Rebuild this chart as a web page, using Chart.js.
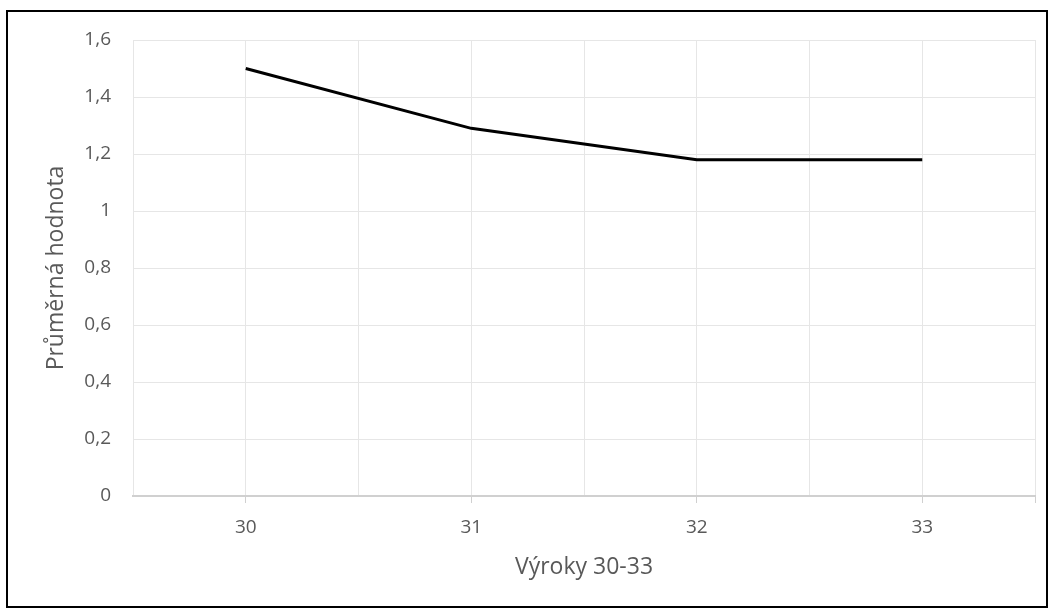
<!DOCTYPE html>
<html>
<head>
<meta charset="utf-8">
<script src="https://cdn.jsdelivr.net/npm/chart.js@4"></script>
<style>
  body { margin: 0; background: #fff; }
  #wrap { position: relative; width: 1052px; height: 610px; }
  #frame { position: absolute; left: 6px; top: 10px; width: 1038px; height: 594px; border: 2px solid #000; }
  canvas { position: absolute; left: 0; top: 0; }
</style>
</head>
<body>
<div id="wrap">
  <div id="frame"></div>
  <canvas id="chart" width="1052" height="610"></canvas>
</div>
<script>
const vyroky = [30, 31, 32, 33];
const hodnoty = [1.5, 1.29, 1.18, 1.18];
const yTicks = [0, 0.2, 0.4, 0.6, 0.8, 1, 1.2, 1.4, 1.6];

const textColor = '#595959';
const gridColor = '#e6e6e6';
const fontFamily = '"Open Sans", sans-serif';

const ctx = document.getElementById('chart');

new Chart(ctx, {
  type: 'line',
  data: {
    datasets: [{
      label: 'Průměrná hodnota',
      data: vyroky.map((v, i) => ({ x: v, y: hodnoty[i] })),
      borderColor: '#000',
      borderWidth: 3,
      pointRadius: 0,
      tension: 0,
      fill: false
    }]
  },
  options: {
    responsive: false,
    animation: false,
    layout: { padding: { top: 40, right: 17, left: 0, bottom: 0 } },
    plugins: {
      legend: { display: false },
      tooltip: { enabled: false }
    },
    scales: {
      x: {
        type: 'linear',
        min: vyroky[0] - 0.5,
        max: vyroky[vyroky.length - 1] + 0.5,
        afterFit: s => { s.height = 114; },
        afterBuildTicks: s => {
          const t = [];
          for (let v = s.min; v <= s.max + 0.001; v += 0.5) t.push({ value: v });
          s.ticks = t;
        },
        ticks: {
          autoSkip: false,
          maxRotation: 0,
          padding: 13,
          color: textColor,
          font: { family: fontFamily, size: 19 },
          callback: v => Number.isInteger(v) ? String(v) : ''
        },
        grid: {
          color: gridColor,
          lineWidth: 1,
          tickLength: 7,
          tickColor: c => (Number.isInteger(c.tick.value) || c.index === 8) ? '#d0d0d0' : 'rgba(0,0,0,0)'
        },
        border: { color: '#d0d0d0', width: 2 },
        title: {
          display: true,
          text: 'Výroky 30-33',
          color: textColor,
          font: { family: fontFamily, size: 23 },
          padding: { top: 0, bottom: 29 }
        }
      },
      y: {
        min: 0,
        max: 1.6,
        afterFit: s => { s.width = 133; },
        afterBuildTicks: s => { s.ticks = yTicks.map(v => ({ value: v })); },
        ticks: {
          padding: 22,
          color: textColor,
          font: { family: fontFamily, size: 19 },
          callback: v => String(Math.round(v * 10) / 10).replace('.', ',')
        },
        grid: { color: gridColor, lineWidth: 1, drawTicks: false },
        border: { display: false },
        title: {
          display: true,
          text: 'Průměrná hodnota',
          color: textColor,
          font: { family: fontFamily, size: 23 },
          padding: { top: 43, bottom: 0 }
        }
      }
    }
  }
});
</script>
</body>
</html>
